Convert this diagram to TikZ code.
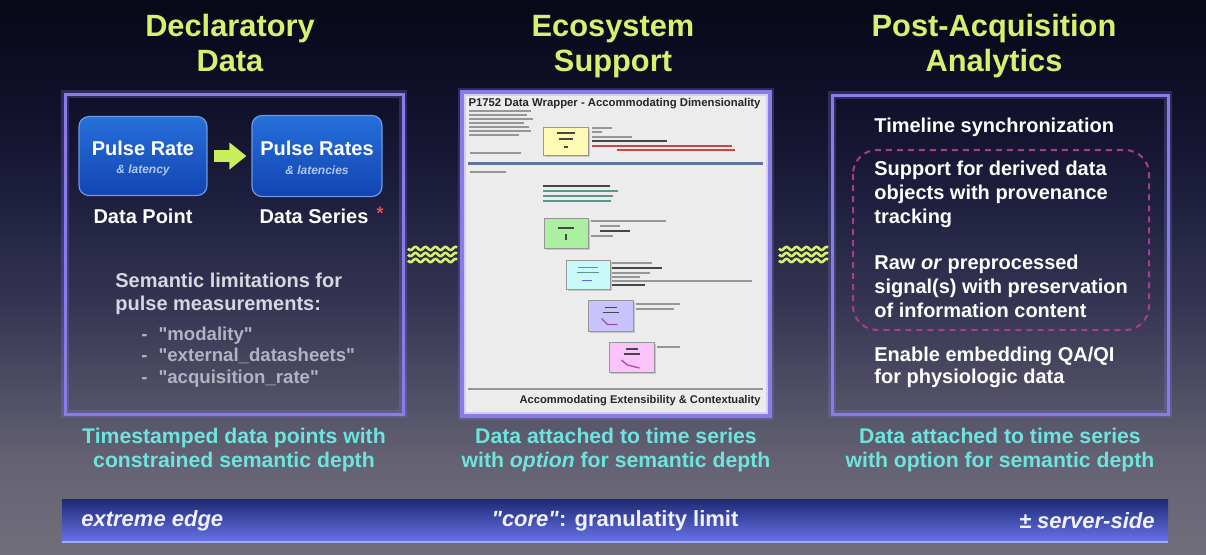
\documentclass[tikz,border=0pt]{standalone}
\usepackage{fontspec}
\setmainfont{Liberation Sans}[Ligatures=TeXOff]
\usetikzlibrary{arrows.meta,shadows}
\definecolor{titlelime}{RGB}{215,240,110}
\definecolor{arrowlime}{RGB}{200,240,90}
\definecolor{capcyan}{RGB}{110,228,222}
\definecolor{panelborder}{RGB}{138,124,232}
\definecolor{semgray}{RGB}{215,215,225}
\definecolor{listgray}{RGB}{178,178,194}
\definecolor{bgtop}{RGB}{8,8,24}
\definecolor{bgA}{RGB}{16,16,42}
\definecolor{bgB}{RGB}{30,30,62}
\definecolor{bgC}{RGB}{52,52,82}
\definecolor{bgD}{RGB}{82,80,102}
\definecolor{bgE}{RGB}{102,100,116}
\definecolor{bgbot}{RGB}{112,110,122}
\definecolor{bartop}{RGB}{28,42,115}
\definecolor{barbot}{RGB}{105,115,235}
\definecolor{boxtop}{RGB}{38,112,218}
\definecolor{boxbot}{RGB}{18,68,178}
\definecolor{boxsub}{RGB}{170,200,242}
\definecolor{dashmag}{RGB}{165,62,145}
\definecolor{thumbbg}{RGB}{236,236,236}
\definecolor{thumbline}{RGB}{95,115,160}
\definecolor{tgray}{RGB}{150,150,150}
\definecolor{tdark}{RGB}{70,70,70}
\definecolor{tteal}{RGB}{90,150,140}
\definecolor{tred}{RGB}{200,70,70}
\definecolor{yelbox}{RGB}{255,250,180}
\definecolor{grnbox}{RGB}{170,240,160}
\definecolor{cyabox}{RGB}{200,250,250}
\definecolor{purbox}{RGB}{200,195,250}
\definecolor{pnkbox}{RGB}{250,195,250}
\definecolor{astred}{RGB}{230,80,80}
\pgfdeclareverticalshading{bgshade}{100bp}{color(0bp)=(bgbot); color(25bp)=(bgbot); color(32.6bp)=(bgE); color(39bp)=(bgD); color(48bp)=(bgC); color(57bp)=(bgB); color(66bp)=(bgA); color(75bp)=(bgtop); color(100bp)=(bgtop)}
\begin{document}
\begin{tikzpicture}[x=0.5pt,y=-0.5pt,
  title/.style={font=\bfseries\fontsize{15.4}{17.5}\selectfont, text=titlelime, inner sep=0pt, anchor=base},
  ptext/.style={font=\bfseries\fontsize{10}{12}\selectfont, text=white, inner sep=0pt, align=left, anchor=west},
  caption/.style={font=\bfseries\fontsize{10.6}{12}\selectfont, text=capcyan, inner sep=0pt, align=center},
  bartext/.style={font=\bfseries\fontsize{11}{13}\selectfont, text=white!94!blue, inner sep=0pt},
  panel/.style={draw=panelborder, line width=1.5pt},
  panelglow/.style={draw=panelborder, line width=4pt, opacity=0.25},
  bluebox/.style={rounded corners=5pt, top color=boxtop, bottom color=boxbot, draw=boxtop!70!white, line width=0.6pt, inner sep=0pt},
  boxtitle/.style={font=\bfseries\fontsize{10}{12}\selectfont, text=white, inner sep=0pt},
  boxsubt/.style={font=\bfseries\itshape\fontsize{6}{7}\selectfont, text=boxsub, inner sep=0pt},
  thumbbox/.style={draw=tgray, line width=0.4pt, inner sep=0pt, drop shadow={shadow xshift=1pt, shadow yshift=-1pt, opacity=0.35}},
  tline/.style={line width=0.7pt, draw=tgray},
  tbold/.style={line width=0.9pt, draw=tdark},
  wave/.style={draw=titlelime, line width=1.3pt},
  dashbox/.style={draw=dashmag, line width=1pt, dash pattern=on 3pt off 2.5pt, rounded corners=12pt},
]
\useasboundingbox (0,0) rectangle (1206,554);
\fill[shading=bgshade] (0,0) rectangle (1206,554);

% titles
\node[title] (t1a) at (230,36) {Declaratory};
\node[title] (t1b) at (230,71) {Data};
\node[title] (t2a) at (613,36) {Ecosystem};
\node[title] (t2b) at (613,71) {Support};
\node[title] (t3a) at (994,36) {Post-Acquisition};
\node[title] (t3b) at (994,71) {Analytics};

% left panel
\draw[panelglow] (65,94) rectangle (403,414);
\draw[panel] (65,94) rectangle (403,414);
\node[bluebox, minimum width=64pt, minimum height=39.5pt] (b1) at (143,156) {};
\node[bluebox, minimum width=65pt, minimum height=40.5pt] (b2) at (317,156) {};
\node[boxtitle] (b1t) at (143,148) {Pulse Rate};
\node[boxsubt] (b1s) at (143,170) {\& latency};
\node[boxtitle] (b2t) at (317,148) {Pulse Rates};
\node[boxsubt] (b2s) at (317,170) {\& latencies};
\draw[arrowlime, line width=6pt, -{Triangle[length=8.5pt,width=13pt]}, shorten <=3pt, shorten >=2.5pt] (b1.east) -- (b2.west);
\node[boxtitle] (dp) at (143,216) {Data Point};
\node[boxtitle] (ds) at (314,216) {Data Series};
\node[font=\bfseries\fontsize{9}{9}\selectfont, text=astred, inner sep=0pt] (ast) at (380,213) {*};
\node[ptext, text=semgray, font=\bfseries\fontsize{10}{11.5}\selectfont] (sem) at (115,293.5) {Semantic limitations for\\pulse measurements:};
\node[ptext, text=listgray, font=\bfseries\fontsize{9.3}{10.75}\selectfont] (lst) at (141,357) {-\hspace{5.5pt}"modality"\\-\hspace{5.5pt}"external\_datasheets"\\-\hspace{5.5pt}"acquisition\_rate"};

% waves
\foreach \yy in {248.5,254.5,260.5} {
  \draw[wave] plot[domain=0:49,samples=80,smooth] ({408+\x},{\yy+1.6*sin(\x*36)});
  \draw[wave] plot[domain=0:49,samples=80,smooth] ({779+\x},{\yy+1.6*sin(\x*36)});
}

% middle panel (thumbnail)
\fill[thumbbg] (462,92) rectangle (770,416);
\draw[panelglow] (462,92) rectangle (770,416);
\draw[panelborder, line width=2pt] (462,92) rectangle (770,416);
\node[inner sep=0pt, text=black!85] (tt) at (614.5,104) {\resizebox{146pt}{!}{\bfseries P1752 Data Wrapper - Accommodating Dimensionality}};
\foreach \yy/\ll in {111/62,115/58,119/64,123/55,127/60,131/62,135/50} {
  \draw[tline, line width=0.6pt] (469,\yy) -- ++(\ll,0);
}
\draw[tline, line width=0.9pt] (470,153) -- (521,153);
\draw[line width=1.5pt, draw=thumbline] (468,163) -- (763,163);
\draw[tline, line width=0.9pt] (470,172) -- (506,172);
% yellow box
\node[thumbbox, fill=yelbox, minimum width=22.5pt, minimum height=14pt] (yb) at (565.5,141) {};
\draw[tbold, line width=0.6pt] ([shift={(-9,-8)}]yb.center) -- ++(18,0);
\draw[tbold, line width=0.6pt] ([shift={(-7,-2)}]yb.center) -- ++(14,0);
\draw[tbold, line width=0.6pt] ([shift={(-2,6)}]yb.center) -- ++(4,0);
\foreach \yy/\xx/\ll/\cc in {128/592/20/tgray,132/592/10/tgray,137/592/40/tgray,141/592/75/tdark,146/592/140/tred,150/617/118/tred} {
  \draw[line width=0.6pt, draw=\cc] (\xx,\yy) -- ++(\ll,0);
}
% state block
\draw[tbold, line width=0.8pt] (543,186) -- (610,186);
\foreach \yy/\ll in {191/75,196/70,201/68} {
  \draw[line width=0.6pt, draw=tteal] (543,\yy) -- ++(\ll,0);
}
% green box
\node[thumbbox, fill=grnbox, minimum width=22pt, minimum height=15pt] (gb) at (566,233) {};
\draw[tbold, line width=0.6pt] ([shift={(-8,-5)}]gb.center) -- ++(16,0);
\draw[tbold, line width=0.8pt] ([shift={(0,1)}]gb.center) -- ++(0,6);
\foreach \yy/\xx/\ll/\cc in {221/591/75/tgray,226/600/20/tgray,231/600/30/tdark,236/591/22/tgray} {
  \draw[line width=0.6pt, draw=\cc] (\xx,\yy) -- ++(\ll,0);
}
% cyan box
\node[thumbbox, fill=cyabox, minimum width=22pt, minimum height=14.5pt] (cb) at (588,274.5) {};
\draw[line width=0.6pt, draw=tteal] ([shift={(-10,-7)}]cb.center) -- ++(20,0);
\draw[line width=0.6pt, draw=tteal] ([shift={(-11,-2)}]cb.center) -- ++(22,0);
\draw[line width=0.7pt, draw=purbox!50!blue] ([shift={(-6,6)}]cb.center) -- ++(10,0);
\foreach \yy/\xx/\ll/\cc in {263/612/40/tgray,268/612/50/tdark,273/612/38/tgray,277/612/28/tgray,281/612/140/tgray,285/612/33/tdark} {
  \draw[line width=0.6pt, draw=\cc] (\xx,\yy) -- ++(\ll,0);
}
% purple box
\node[thumbbox, fill=purbox, minimum width=22.5pt, minimum height=15.5pt] (pb) at (610.5,315.5) {};
\draw[tbold, line width=0.6pt] ([shift={(-6,-8)}]pb.center) -- ++(12,0);
\draw[tbold, line width=0.6pt] ([shift={(-8,-3)}]pb.center) -- ++(16,0);
\draw[line width=0.7pt, draw=purbox!40!violet] ([shift={(-9,3)}]pb.center) -- ++(6,6) -- ++(10,0);
\draw[line width=0.6pt, draw=tgray] (636,304) -- ++(44,0);
\draw[line width=0.6pt, draw=tgray] (636,309) -- ++(38,0);
% pink box
\node[thumbbox, fill=pnkbox, minimum width=22.5pt, minimum height=15pt] (kb) at (631.5,357) {};
\draw[tbold, line width=0.6pt] ([shift={(-6,-8)}]kb.center) -- ++(12,0);
\draw[tbold, line width=0.6pt] ([shift={(-8,-3)}]kb.center) -- ++(16,0);
\draw[line width=0.7pt, draw=pnkbox!40!violet] ([shift={(-10,3)}]kb.center) -- ++(6,5) -- ++(12,3);
\draw[line width=0.6pt, draw=tgray] (657,347) -- ++(23,0);
\draw[line width=0.6pt, draw=tgray] (468,389) -- (763,389);
\node[anchor=east, inner sep=0pt, text=black!85] (tb) at (761,401) {\resizebox{120.5pt}{!}{\bfseries Accommodating Extensibility \& Contextuality}};

% right panel
\draw[panelglow] (832,95) rectangle (1168,414);
\draw[panel] (832,95) rectangle (1168,414);
\node[ptext] (r1) at (874,127) {Timeline synchronization};
\draw[dashbox] (853,150) rectangle (1149,330);
\node[ptext] (r2) at (874,194) {Support for derived data\\objects with provenance\\tracking};
\node[ptext] (r3) at (874,286) {Raw \textit{or} preprocessed\\signal(s) with preservation\\of information content};
\node[ptext, font=\bfseries\fontsize{10}{11}\selectfont] (r4) at (874,367) {Enable embedding QA/QI\\for physiologic data};

% captions
\node[caption] (c1) at (234,450) {Timestamped data points with\\constrained semantic depth};
\node[caption] (c2) at (616,450) {Data attached to time series\\with \textit{option} for semantic depth};
\node[caption] (c3) at (1000,450) {Data attached to time series\\with option for semantic depth};

% bottom bar
\shade[top color=bartop, bottom color=barbot] (62,499) rectangle (1168,542);
\draw[barbot!60!white, line width=1pt] (62,541.5) -- (1168,541.5);
\node[bartext, anchor=west] (e1) at (81,521) {\itshape extreme edge};
\node[bartext] (e2) at (615,521) {\textit{"core"}: granulatity limit};
\node[bartext, anchor=east] (e3) at (1155,521) {\itshape ± server-side};
\end{tikzpicture}
\end{document}
